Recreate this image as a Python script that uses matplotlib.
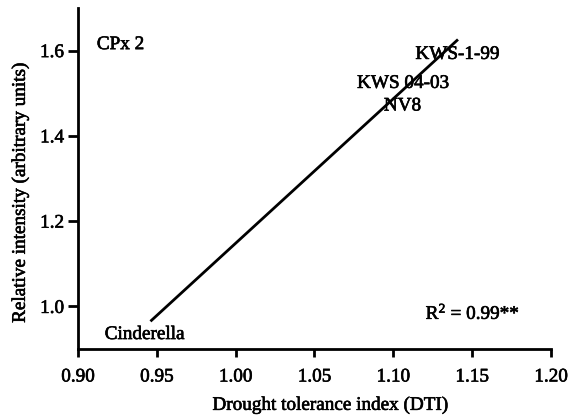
import matplotlib
matplotlib.use("Agg")
import matplotlib.pyplot as plt
import matplotlib.patheffects as pe

plt.rcParams['font.family'] = ['Liberation Serif', 'DejaVu Serif']
plt.rcParams['mathtext.fontset'] = 'custom'
plt.rcParams['mathtext.rm'] = 'Liberation Serif'
plt.rcParams['mathtext.it'] = 'Liberation Serif:italic'
plt.rcParams['mathtext.bf'] = 'Liberation Serif:bold'

# Regression line endpoints (DTI vs relative intensity)
line_x = [0.946, 1.141]
line_y = [0.965, 1.626]

# Cultivar labels and their positions (data coordinates)
label_names = ["KWS-1-99", "KWS 04-03", "NV8", "Cinderella"]
label_x = [1.114, 1.077, 1.094, 0.917]
label_y = [1.591, 1.523, 1.470, 0.934]

panel_title = "CPx 2"
r2_text = r"R$^2$ = 0.99**"

x_ticks = [0.90, 0.95, 1.00, 1.05, 1.10, 1.15, 1.20]
y_ticks = [1.0, 1.2, 1.4, 1.6]

FS = 13.8
heavy = [pe.withStroke(linewidth=0.45, foreground='black')]

fig = plt.figure(figsize=(5.77, 4.18), dpi=100)
ax = fig.add_axes([0.135, 0.165, 0.82, 0.816])

ax.plot(line_x, line_y, color='black', lw=2.0, solid_capstyle='butt')

for name, x, y in zip(label_names, label_x, label_y):
    ax.text(x, y, name, fontsize=FS, ha='left', va='center', color='black',
            path_effects=heavy)

ax.text(0.912, 1.614, panel_title, fontsize=FS, ha='left', va='center', path_effects=heavy)
ax.text(1.1205, 0.984, r2_text, fontsize=FS, ha='left', va='center', path_effects=heavy)

ax.set_xlim(0.90, 1.20)
ax.set_ylim(0.90, 1.70)
ax.set_xticks(x_ticks)
ax.set_xticklabels([f"{v:.2f}" for v in x_ticks])
ax.set_yticks(y_ticks)
ax.set_yticklabels([f"{v:.1f}" for v in y_ticks])

for s in ['top', 'right']:
    ax.spines[s].set_visible(False)
for s in ['left', 'bottom']:
    ax.spines[s].set_linewidth(2.0)
ax.tick_params(axis='x', direction='out', length=6, width=2, labelsize=FS, pad=8)
ax.tick_params(axis='y', direction='out', length=7, width=2, labelsize=FS, pad=3)
for lab in ax.get_xticklabels() + ax.get_yticklabels():
    lab.set_path_effects(heavy)

ax.set_xlabel("Drought tolerance index (DTI)", fontsize=FS, labelpad=8, path_effects=heavy)
ax.set_ylabel("Relative intensity (arbitrary units)", fontsize=FS, labelpad=8, path_effects=heavy)
ax.xaxis.label.set_x(0.533)
ax.yaxis.label.set_y(0.457)

fig.savefig("out.png", dpi=100)
